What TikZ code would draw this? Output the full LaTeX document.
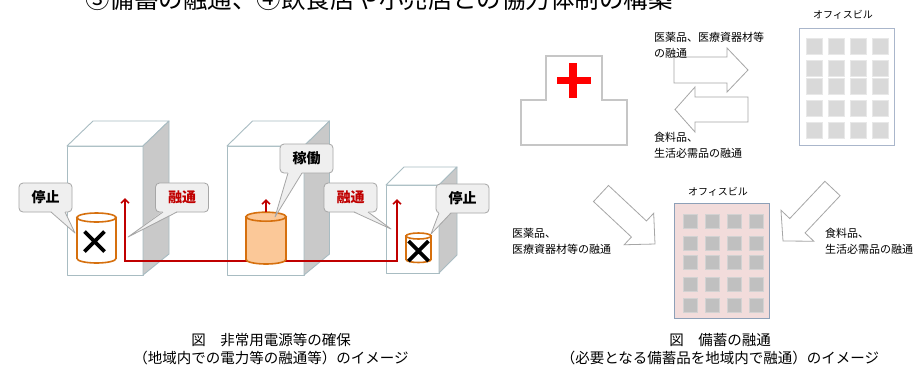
\documentclass[tikz,border=0pt]{standalone}
\usepackage{fontspec}
\setmainfont{Noto Sans CJK JP}
\usetikzlibrary{calc,arrows.meta}

\definecolor{bldline}{HTML}{A8BCC2}
\definecolor{bldside}{HTML}{C9C9C9}
\definecolor{cylline}{HTML}{D6700E}
\definecolor{cylfill}{HTML}{FBC898}
\definecolor{callfill}{HTML}{EFEFEF}
\definecolor{callline}{HTML}{A6A6A6}
\definecolor{flowred}{HTML}{C00000}
\definecolor{hospline}{HTML}{C6C6C6}
\definecolor{arrline}{HTML}{A6A6A6}
\definecolor{ofline}{HTML}{AAB6CB}
\definecolor{ofwin}{HTML}{D9D9D9}
\definecolor{ofwinline}{HTML}{E8E8E8}
\definecolor{pinkfill}{HTML}{F2DCDB}
\definecolor{pinkline}{HTML}{8DA0B8}
\definecolor{pinkwin}{HTML}{C0C0C0}
\definecolor{pinkwinline}{HTML}{D2D2D2}

% block arrow: tail, tip, shaft half-width, head half-width, head length, style
\newcommand\blockarrow[6]{%
  \coordinate (ba-n) at ($(#2)!#5!(#1)$);
  \draw[#6] ($(#1)!#3!90:(#2)$) -- ($(ba-n)!#3!-90:(#1)$) -- ($(ba-n)!#4!-90:(#1)$)
    -- (#2) -- ($(ba-n)!#4!90:(#1)$) -- ($(ba-n)!#3!90:(#1)$) -- ($(#1)!#3!-90:(#2)$) -- cycle;}

% box building: front x1,y1,x2,y2 ; depth offset dx ; back top y ; back bottom y
\newcommand\building[7]{%
  \filldraw[bldstroke, fill=white] (#1,#2) rectangle (#3,#4);
  \filldraw[bldstroke, fill=white] (#1,#2) -- ({#1+#5},#6) -- ({#3+#5},#6) -- (#3,#2) -- cycle;
  \filldraw[bldstroke, fill=bldside] (#3,#2) -- ({#3+#5},#6) -- ({#3+#5},#7) -- (#3,#4) -- cycle;}

% tank: centre x, x radius, top y, bottom y, y radius, fill
\newcommand\tank[6]{%
  \filldraw[tankstroke, fill=#6] ({#1-#2},#3) -- ({#1-#2},#4)
    arc[start angle=180, end angle=360, x radius=#2pt, y radius=#5pt] -- ({#1+#2},#3) -- cycle;
  \filldraw[tankstroke, fill=#6] (#1,#3) ellipse [x radius=#2pt, y radius=#5pt];}

% speech bubble: name, cx, cy, text style, text, base x1, base x2, tip x, tip y
\newcommand\callout[9]{%
  \node[callbox, #4] (#1) at (#2,#3) {#5};
  \fill[callfill] (#6,{#3+13.6}) -- (#8,#9) -- (#7,{#3+13.6}) -- cycle;
  \draw[callline, line width=0.8pt, line join=round] (#6,{#3+14.5}) -- (#8,#9) -- (#7,{#3+14.5});}

\begin{document}
\begin{tikzpicture}[x=1pt, y=-1pt,
  bldstroke/.style={draw=bldline, line width=0.9pt, line join=round},
  tankstroke/.style={draw=cylline, line width=1.6pt},
  callbox/.style={draw=callline, fill=callfill, line width=0.8pt, rounded corners=4pt,
    minimum width=53pt, minimum height=29pt, inner sep=0pt,
    font=\fontsize{14}{14}\selectfont\bfseries},
  redtext/.style={text=flowred},
  flow/.style={draw=flowred, line width=1.8pt},
  tip/.style={-{Straight Barb[length=4pt, width=8pt, line width=1.6pt]}},
  xmark/.style={line width=3.8pt, black},
  blockarr/.style={draw=arrline, fill=white, line width=0.8pt, line join=miter},
  small/.style={font=\fontsize{11}{16}\selectfont, inner sep=0pt, align=left},
  caption/.style={font=\fontsize{14.5}{18}\selectfont, align=center, inner sep=0pt},
  oflabel/.style={font=\fontsize{10}{10}\selectfont, inner sep=0pt}]

\useasboundingbox (0,0) rectangle (915,368);
\clip (0,0) rectangle (915,368);
\fill[white] (0,0) rectangle (915,368);

% heading line
\node[font=\fontsize{24.5}{26}\selectfont, inner sep=0pt] (heading) at (379,-1)
  {③備蓄の融通、④飲食店や小売店との協力体制の構築};

% ---------- power sharing ----------
\building{67}{146}{143}{275}{26}{121}{254}
\building{227}{146}{304}{275}{25.5}{121}{254}
\building{386}{185}{439}{273}{18}{167}{255}

\coordinate (up1) at (125,198);
\coordinate (up3) at (397,199);
\coordinate (bus) at (0,261);
\coordinate (tank2top) at (266,212);
\coordinate (up2) at (266,199);

\draw[flow, {Straight Barb[length=4pt, width=8pt, line width=1.6pt]}-{Straight Barb[length=4pt, width=8pt, line width=1.6pt]}]
  (up1) -- (up1 |- bus) -- (up3 |- bus) -- (up3);

\tank{96.5}{19.5}{217.5}{258.5}{4.5}{white}
\tank{266}{20}{216.7}{259.5}{4.5}{cylfill}
\tank{418.5}{12.5}{236}{259.5}{3}{white}

\draw[flow, tip] (tank2top) -- (up2);

\draw[xmark] (84.5,231.5) -- (104.5,251.5) (84.5,251.5) -- (104.5,231.5);
\draw[xmark] (408.5,241) -- (428.5,261) (408.5,261) -- (428.5,241);

\callout{stop1}{45.5}{197.5}{}{停止}{51}{65}{75}{233}
\callout{flow1}{182}{197.5}{redtext}{融通}{163}{177}{128}{237}
\callout{run2}{306.5}{158.5}{}{稼働}{288}{302}{275}{217}
\callout{flow3}{350.5}{197.5}{redtext}{融通}{354}{368}{391}{229}
\callout{stop3}{462.5}{198.5}{}{停止}{439}{451}{431}{234}

\node[caption] (cap1) at (271,349) {図　非常用電源等の確保\\（地域内での電力等の融通等）のイメージ};

% ---------- stockpile sharing ----------
% hospital
\draw[hospline, line width=1.2pt] (521,145) -- (521,100) -- (546,100) -- (546,56)
  -- (602,56) -- (602,100) -- (627,100) -- (627,145) -- cycle;
\fill[red] (557,77) rectangle (591,84.3);
\fill[red] (569.3,63) rectangle (577.3,98);

% office building, upper right
\node[oflabel] (ofl1) at (843,15) {オフィスビル};
\filldraw[draw=ofline, fill=white, line width=1pt] (799,28) rectangle (894,145);
\foreach \x in {806,828,850,872}
  \foreach \y in {38,60,78,100,122}
    \filldraw[draw=ofwinline, fill=ofwin, line width=0.8pt] (\x,\y) rectangle ++(16,16);

% office building, lower centre
\node[oflabel] (ofl2) at (718,192) {オフィスビル};
\filldraw[draw=pinkline, fill=pinkfill, line width=1pt] (674,203) rectangle (769,318);
\foreach \x in {683,705,727,749}
  \foreach \y in {214,236,255,277,298}
    \filldraw[draw=pinkwinline, fill=pinkwin, line width=0.8pt] (\x,\y) rectangle ++(14,14);

% transfer arrows
\coordinate (ra-t) at (674,70);   \coordinate (ra-h) at (748,70);
\coordinate (la-t) at (748,109.5); \coordinate (la-h) at (675,109.5);
\coordinate (da-t) at (601,193.5); \coordinate (da-h) at (655,244);
\coordinate (db-t) at (832.5,188.5); \coordinate (db-h) at (783,241);
\blockarrow{ra-t}{ra-h}{13pt}{22pt}{21pt}{blockarr}
\blockarrow{la-t}{la-h}{12.5pt}{22.5pt}{20pt}{blockarr}
\blockarrow{da-t}{da-h}{11pt}{21.6pt}{22pt}{blockarr}
\blockarrow{db-t}{db-h}{10.5pt}{22.6pt}{21pt}{blockarr}

\node[small, anchor=north west] (lb1) at (654,32) {医薬品、医療資器材等\\の融通};
\node[small, anchor=north west] (lb2) at (654,132) {食料品、\\生活必需品の融通};
\node[small, anchor=north west] (lb3) at (512,228) {医薬品、\\医療資器材等の融通};
\node[small, anchor=north west] (lb4) at (825,228) {食料品、\\生活必需品の融通};

\node[caption] (cap2) at (720,349) {図　備蓄の融通\\（必要となる備蓄品を地域内で融通）のイメージ};

\end{tikzpicture}
\end{document}
